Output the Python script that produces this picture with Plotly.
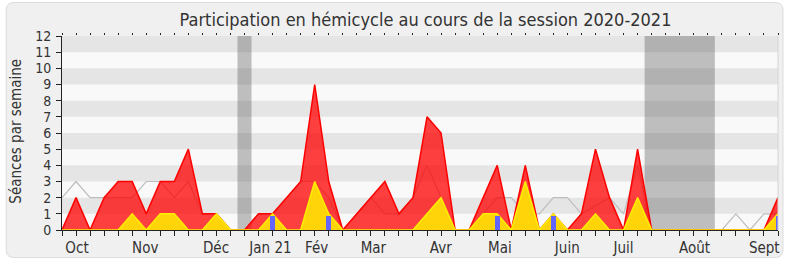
import plotly.graph_objects as go

# ---- data (weekly, session 2020-2021) ----
weeks = list(range(52))
presence = [0, 2, 0, 2, 3, 3, 1, 3, 3, 5, 1, 1, 0, 0, 1, 1, 2, 3, 9, 3,
            0, 1, 2, 3, 1, 2, 7, 6, 0, 0, 2, 4, 0, 4, 0, 1, 0, 1, 5, 2,
            0, 5, 0, 0, 0, 0, 0, 0, 0, 0, 0, 2]
participation = [0, 0, 0, 0, 0, 1, 0, 1, 1, 0, 0, 1, 0, 0, 0, 1, 0, 0, 3, 1,
                 0, 0, 0, 0, 0, 0, 1, 2, 0, 0, 1, 1, 0, 3, 0, 1, 0, 0, 1, 0,
                 0, 2, 0, 0, 0, 0, 0, 0, 0, 0, 0, 1]
median = [2, 3, 2, 2, 2, 2, 3, 3, 2, 3, 1, 1, 0, 0, 1, 1, 2, 3, 3, 2,
          0, 1, 2, 1, 1, 2, 4, 2, 0, 0, 1, 2, 2, 1, 1, 2, 2, 1, 1.5, 2,
          1, 4, 0, 0, 0, 0, 0, 0, 1, 0, 1, 1]
question_weeks = [15, 19, 31, 35, 51]
question_values = [0.85, 0.85, 0.85, 0.85, 0.85]
vacations = [(12.5, 13.5), (41.5, 46.5)]
month_labels = ["Oct", "Nov", "Déc", "Jan 21", "Fév", "Mar", "Avr", "Mai",
                "Juin", "Juil", "Août", "Sept"]
month_positions = [1.07, 5.93, 10.97, 14.85, 18.14, 22.18, 26.98, 31.19,
                   35.99, 40.0, 45.06, 50.02]

FONT = "DejaVu Sans Condensed, DejaVu Sans, sans-serif"
TXT = "#333333"

# plot area in pixels
L, R, T, B = 62, 780, 36, 233
W, H = 790, 267


def px_x(p):
    return (p - L) / (R - L)


def px_y(p):
    return (B - p) / (B - T)


fig = go.Figure()

fig.add_trace(go.Scatter(x=weeks, y=median, mode="lines",
                         line=dict(color="#bdbdbd", width=1.2),
                         hoverinfo="skip", showlegend=False))
fig.add_trace(go.Scatter(x=weeks, y=presence, mode="lines", fill="tozeroy",
                         line=dict(color="#ff0000", width=1.5),
                         fillcolor="rgba(255,0,0,0.75)",
                         showlegend=False))
fig.add_trace(go.Scatter(x=weeks, y=participation, mode="lines", fill="tozeroy",
                         line=dict(color="#ffee00", width=1.5),
                         fillcolor="rgb(255,213,10)",
                         showlegend=False))
# bars on the overlaying axis so they are drawn above the filled areas
fig.add_trace(go.Bar(x=question_weeks, y=question_values, width=0.35,
                     xaxis="x2",
                     marker=dict(color="rgb(100,100,255)", line=dict(width=0)),
                     showlegend=False))

shapes = []
# outer rounded frame
x0, x1 = px_x(6), px_x(785)
y0, y1 = px_y(261), px_y(2)
rx = 8 / (R - L)
ry = 8 / (B - T)
path = (f"M {x0+rx},{y1} L {x1-rx},{y1} Q {x1},{y1} {x1},{y1-ry} "
        f"L {x1},{y0+ry} Q {x1},{y0} {x1-rx},{y0} L {x0+rx},{y0} "
        f"Q {x0},{y0} {x0},{y0+ry} L {x0},{y1-ry} Q {x0},{y1} {x0+rx},{y1} Z")
shapes.append(dict(type="path", path=path, xref="paper", yref="paper",
                   fillcolor="#f0f0f0", line=dict(color="#dcdcdc", width=1),
                   layer="below"))
# plot background
shapes.append(dict(type="rect", xref="paper", yref="paper", x0=0, x1=1, y0=0, y1=1,
                   fillcolor="#f9f9f9", line=dict(width=0), layer="below"))
# alternating bands
for k in range(1, 12, 2):
    shapes.append(dict(type="rect", xref="paper", yref="y", x0=0, x1=1,
                       y0=k, y1=k + 1, fillcolor="#e5e5e5",
                       line=dict(width=0), layer="below"))
# vacations
for a, b in vacations:
    shapes.append(dict(type="rect", xref="x", yref="paper", x0=a, x1=b,
                       y0=0, y1=1, fillcolor="rgba(80,80,80,0.35)",
                       line=dict(width=0), layer="below"))
# right border
shapes.append(dict(type="line", xref="paper", yref="paper", x0=1, x1=1,
                   y0=0, y1=1, line=dict(color="#d4d4d4", width=1)))

fig.update_layout(
    width=W, height=H, autosize=False,
    margin=dict(l=L, r=W - R, t=T, b=H - B),
    paper_bgcolor="white", plot_bgcolor="rgba(0,0,0,0)",
    font=dict(family=FONT, color=TXT, size=15),
    bargap=0,
    shapes=shapes,
    title=dict(text="Participation en hémicycle au cours de la session 2020-2021",
               x=px_x(426.5), xref="paper", xanchor="center",
               y=1 - 19.5 / H, yref="container", yanchor="middle",
               font=dict(family=FONT, size=18, color=TXT)),
    xaxis=dict(range=[0, 51], showgrid=False, zeroline=False,
               showline=True, linecolor="#222222", linewidth=1,
               tickmode="array", tickvals=month_positions, ticktext=month_labels,
               ticks="outside", ticklen=0, tickcolor="#222222",
               ticklabelstandoff=4,
               tickfont=dict(family=FONT, size=15, color=TXT),
               minor=dict(tick0=0, dtick=1, ticks="outside", ticklen=5,
                          tickcolor="#222222", showgrid=False)),
    xaxis2=dict(range=[0, 51], overlaying="x", side="top", showgrid=False,
                zeroline=False, showline=False, showticklabels=False,
                tick0=0, dtick=1, ticks="outside", ticklen=2,
                tickcolor="#222222"),
    yaxis=dict(range=[0, 12], showgrid=False, zeroline=False,
               showline=True, linecolor="#222222", linewidth=1,
               tick0=0, dtick=1, ticks="outside", ticklen=5,
               tickcolor="#222222", ticklabelstandoff=2,
               tickfont=dict(family=FONT, size=14, color=TXT)),
    annotations=[dict(text="Séances par semaine", textangle=-90,
                      xref="paper", yref="paper", x=px_x(15), y=px_y(133),
                      xanchor="center", yanchor="middle", showarrow=False,
                      font=dict(family=FONT, size=15, color=TXT))],
)

fig.write_html("out.html")
